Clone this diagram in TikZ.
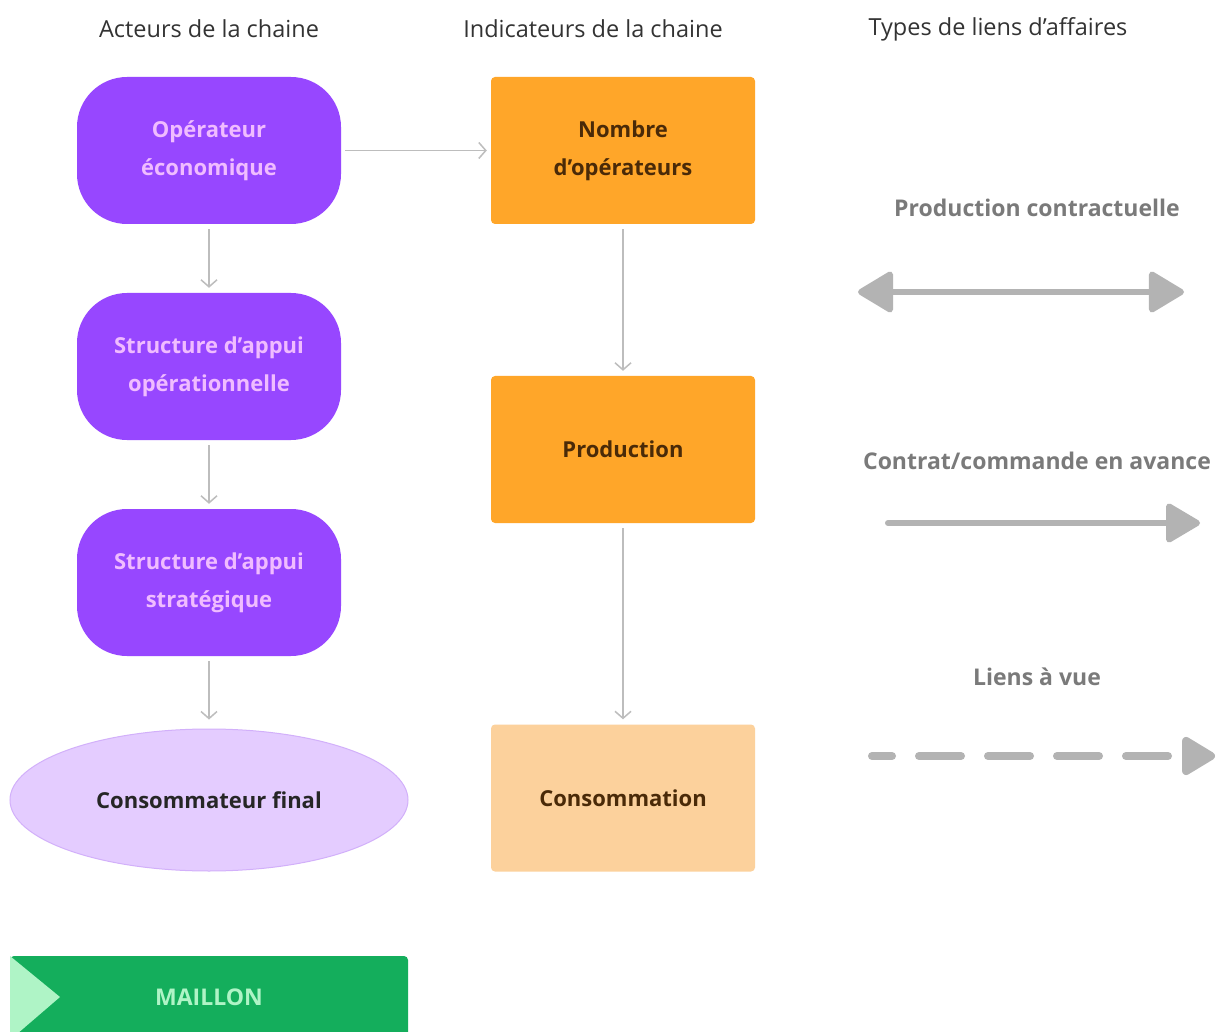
\documentclass[tikz,border=0pt]{standalone}
\usepackage{fontspec}
\setmainfont{Open Sans}
\usetikzlibrary{arrows.meta,shapes.geometric}
\definecolor{actor}{HTML}{9747FF}
\definecolor{actortext}{HTML}{F0BCFF}
\definecolor{consumer}{HTML}{E4CCFF}
\definecolor{consumerline}{HTML}{D2B0FA}
\definecolor{indic}{HTML}{FFA629}
\definecolor{indiclight}{HTML}{FCD19C}
\definecolor{indictext}{HTML}{4A2A08}
\definecolor{link}{HTML}{BDBDBD}
\definecolor{biglink}{HTML}{B3B3B3}
\definecolor{labelgray}{HTML}{7A7A7A}
\definecolor{headtext}{HTML}{333333}
\definecolor{maillon}{HTML}{14AE5C}
\definecolor{maillonlight}{HTML}{AFF4C6}
\tikzset{
  head/.style={font=\fontsize{23.5}{28}\selectfont, text=headtext},
  linklabel/.style={font=\fontsize{23}{28}\selectfont\bfseries, text=labelgray},
  boxfont/.style={font=\fontsize{22}{38}\selectfont\bfseries},
  actorbox/.style={fill=actor, draw=none, rounded corners=50pt, minimum width=264pt,
    minimum height=147pt, text=actortext, align=center, boxfont},
  indicbox/.style={fill=indic, draw=none, rounded corners=4pt, minimum width=264pt,
    minimum height=147pt, text=indictext, align=center, boxfont},
  flow/.style={draw=link, line width=1.5pt, -{Straight Barb[length=7pt,width=16pt]}},
  bigline/.style={draw=biglink, line width=6pt},
}
\begin{document}
\begin{tikzpicture}[x=1pt,y=-1pt]
\useasboundingbox (0,0) rectangle (1216,1032);
\clip (0,0) rectangle (1216,1032);
\fill[white] (0,0) rectangle (1216,1032);

% column headings
\node[head] (h1) at (209,29) {Acteurs de la chaine};
\node[head] (h2) at (593,29) {Indicateurs de la chaine};
\node[head] (h3) at (998,29) {Types de liens d’affaires};

% actors of the chain
\node[actorbox] (a1) at (209,150.5) {Opérateur\\économique};
\node[actorbox] (a2) at (209,366.5) {Structure d’appui\\opérationnelle};
\node[actorbox] (a3) at (209,582.5) {Structure d’appui\\stratégique};
\node[ellipse, fill=consumer, draw=consumerline, line width=1pt,
      minimum width=398pt, minimum height=142pt, text=black!85, boxfont] (a4) at (209,800) {Consommateur final};

% chain indicators
\node[indicbox] (i1) at (623,150.5) {Nombre\\d’opérateurs};
\node[indicbox] (i2) at (623,449.5) {Production};
\node[indicbox, fill=indiclight] (i3) at (623,798) {Consommation};

% flows
\draw[flow] ([yshift=-5pt]a1.south) -- ([yshift=5pt]a2.north);
\draw[flow] ([yshift=-5pt]a2.south) -- ([yshift=5pt]a3.north);
\draw[flow] ([yshift=-5pt]a3.south) -- ([yshift=9pt]a4.north);
\draw[flow] ([xshift=4pt]a1.east) -- ([xshift=-4pt]i1.west);
\draw[flow] ([yshift=-5pt]i1.south) -- ([yshift=5pt]i2.north);
\draw[flow] ([yshift=-5pt]i2.south) -- ([yshift=5pt]i3.north);

% kinds of business links
\node[linklabel] (l1) at (1037,208) {Production contractuelle};
\coordinate (l1a) at (858,292);
\coordinate (l1b) at (1184,292);
\draw[bigline, {Triangle[length=38pt,width=44pt,round]}-{Triangle[length=38pt,width=44pt,round]}] (l1a) -- (l1b);

\node[linklabel] (l2) at (1037,461) {Contrat/commande en avance};
\coordinate (l2a) at (888,523);
\coordinate (l2b) at (1200,523);
\draw[bigline, line cap=round, -{Triangle[length=37pt,width=42pt,round]}] (l2a) -- (l2b);

\node[linklabel] (l3) at (1037,677) {Liens à vue};
\coordinate (l3a) at (872,756);
\coordinate (l3b) at (1215,756);
\draw[bigline, line width=8pt, line cap=round, dash pattern=on 42pt off 27pt, dash phase=22pt,
      -{Triangle[length=37pt,width=42pt,round]}] (l3a) -- (l3b);

% link banner
\fill[maillon, rounded corners=4pt] (10,956) rectangle (408,1045);
\fill[maillonlight] (10,956) -- (60,997) -- (10,1040) -- cycle;
\node[font=\fontsize{23}{28}\selectfont\bfseries, text=maillonlight] (m) at (209,997) {MAILLON};
\end{tikzpicture}
\end{document}
